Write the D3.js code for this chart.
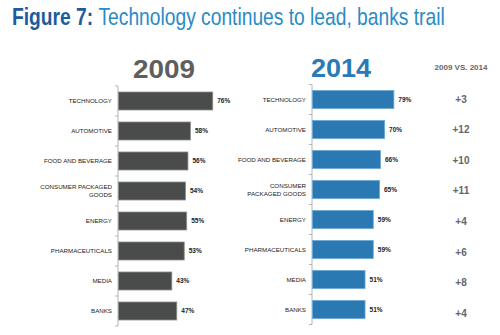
<!DOCTYPE html>
<html>
<head>
<meta charset="utf-8">
<script src="https://cdn.jsdelivr.net/npm/d3@7"></script>
<style>
  body { margin: 0; background: #fff; }
  svg { display: block; font-family: "Liberation Sans", Arial, sans-serif; }
</style>
</head>
<body>
<div id="chart"></div>
<script>
// Industries, top to bottom
const categories = ["Technology", "Automotive", "Food and Beverage", "Consumer Packaged Goods",
  "Energy", "Pharmaceuticals", "Media", "Banks"];

// Label lines for each panel (the long one wraps differently)
const labels2009 = [["TECHNOLOGY"], ["AUTOMOTIVE"], ["FOOD AND BEVERAGE"], ["CONSUMER PACKAGED", "GOODS"],
  ["ENERGY"], ["PHARMACEUTICALS"], ["MEDIA"], ["BANKS"]];
const labels2014 = [["TECHNOLOGY"], ["AUTOMOTIVE"], ["FOOD AND BEVERAGE"], ["CONSUMER", "PACKAGED GOODS"],
  ["ENERGY"], ["PHARMACEUTICALS"], ["MEDIA"], ["BANKS"]];

// Percent values
const values2009 = [76, 58, 56, 54, 55, 53, 43, 47];
const values2014 = [79, 70, 66, 65, 59, 59, 51, 51];

const width = 500, height = 335;

const svg = d3.select("#chart").append("svg")
  .attr("width", width)
  .attr("height", height);

// Title, squeezed to a condensed look
const title = svg.append("text")
  .attr("x", 12)
  .attr("y", 25)
  .attr("font-size", 24);
title.append("tspan").attr("font-weight", "bold").attr("fill", "#1d5c9b").text("Figure 7: ");
title.append("tspan").attr("fill", "#2b8bc6").text("Technology continues to lead, banks trail");
const titleW = title.node().getComputedTextLength();
title.attr("transform", `translate(12,0) scale(${433 / titleW},1) translate(-12,0)`);

function drawPanel(cfg) {
  const g = svg.append("g");

  const x = d3.scaleLinear().domain([0, 100]).range([cfg.axisX, cfg.axisX + cfg.full]);
  const y = d3.scaleBand()
    .domain(categories)
    .range([cfg.top, cfg.top + 240])
    .paddingInner(0.4)
    .paddingOuter(0.2);

  // Year heading
  g.append("text")
    .attr("x", cfg.headX)
    .attr("y", cfg.headY)
    .attr("text-anchor", "middle")
    .attr("font-size", 25)
    .attr("font-weight", "bold")
    .attr("fill", cfg.headColor)
    .attr("textLength", cfg.headW)
    .attr("lengthAdjust", "spacingAndGlyphs")
    .text(cfg.year);

  // Axis spine with small ticks between bands
  g.append("line")
    .attr("x1", cfg.axisX).attr("x2", cfg.axisX)
    .attr("y1", y.range()[0]).attr("y2", y.range()[1])
    .attr("stroke", "#b5b5b5");
  const bounds = categories.map(c => y(c) - y.step() * y.paddingOuter()).concat([y.range()[1]]);
  g.selectAll(".tick").data(bounds).join("line")
    .attr("class", "tick")
    .attr("x1", cfg.axisX - 3).attr("x2", cfg.axisX)
    .attr("y1", d => d).attr("y2", d => d)
    .attr("stroke", "#b5b5b5");

  // Bars
  g.selectAll(".bar").data(cfg.values).join("rect")
    .attr("class", "bar")
    .attr("x", x(0) + 0.5)
    .attr("y", (d, i) => y(categories[i]))
    .attr("width", d => x(d) - x(0))
    .attr("height", y.bandwidth())
    .attr("fill", cfg.fill)
    .attr("stroke", cfg.edge)
    .attr("stroke-width", 0.8);

  // Value labels
  g.selectAll(".val").data(cfg.values).join("text")
    .attr("class", "val")
    .attr("x", d => x(d) + 5)
    .attr("y", (d, i) => y(categories[i]) + y.bandwidth() / 2)
    .attr("dy", "0.35em")
    .attr("font-size", 6.5)
    .attr("font-weight", "bold")
    .attr("fill", "#222")
    .text(d => d + "%");

  // Category labels
  const lab = g.selectAll(".cat").data(cfg.labels).join("text")
    .attr("class", "cat")
    .attr("text-anchor", "end")
    .attr("font-size", 6.2)
    .attr("fill", "#222")
    .attr("y", (d, i) => y(categories[i]) + y.bandwidth() / 2);
  lab.selectAll("tspan").data(d => d.map((t, j) => ({ t, j, n: d.length }))).join("tspan")
    .attr("x", cfg.axisX - 6)
    .attr("dy", d => d.j === 0 ? (0.35 - (d.n - 1) * 0.65) + "em" : "1.3em")
    .text(d => d.t);
}

drawPanel({
  year: "2009", values: values2009, labels: labels2009,
  axisX: 118, full: 124, top: 86,
  headX: 164, headY: 78, headW: 62, headColor: "#5e5e5e",
  fill: "#4a4c4b", edge: "#8c8e8d"
});

drawPanel({
  year: "2014", values: values2014, labels: labels2014,
  axisX: 312, full: 103, top: 84.5,
  headX: 341, headY: 77, headW: 60, headColor: "#2a7ab6",
  fill: "#2a79b3", edge: "#6ba7d6"
});

// Change column
svg.append("text")
  .attr("x", 461)
  .attr("y", 70)
  .attr("text-anchor", "middle")
  .attr("font-size", 8)
  .attr("font-weight", "bold")
  .attr("fill", "#666")
  .text("2009 VS. 2014");

const yDiff = d3.scaleBand().domain(categories).range([83.7, 328.5]);
svg.selectAll(".diff").data(categories).join("text")
  .attr("class", "diff")
  .attr("x", 461)
  .attr("y", c => yDiff(c) + yDiff.bandwidth() / 2)
  .attr("dy", "0.35em")
  .attr("text-anchor", "middle")
  .attr("font-size", 10)
  .attr("font-weight", "bold")
  .attr("fill", "#666")
  .text((c, i) => "+" + (values2014[i] - values2009[i]));
</script>
</body>
</html>
